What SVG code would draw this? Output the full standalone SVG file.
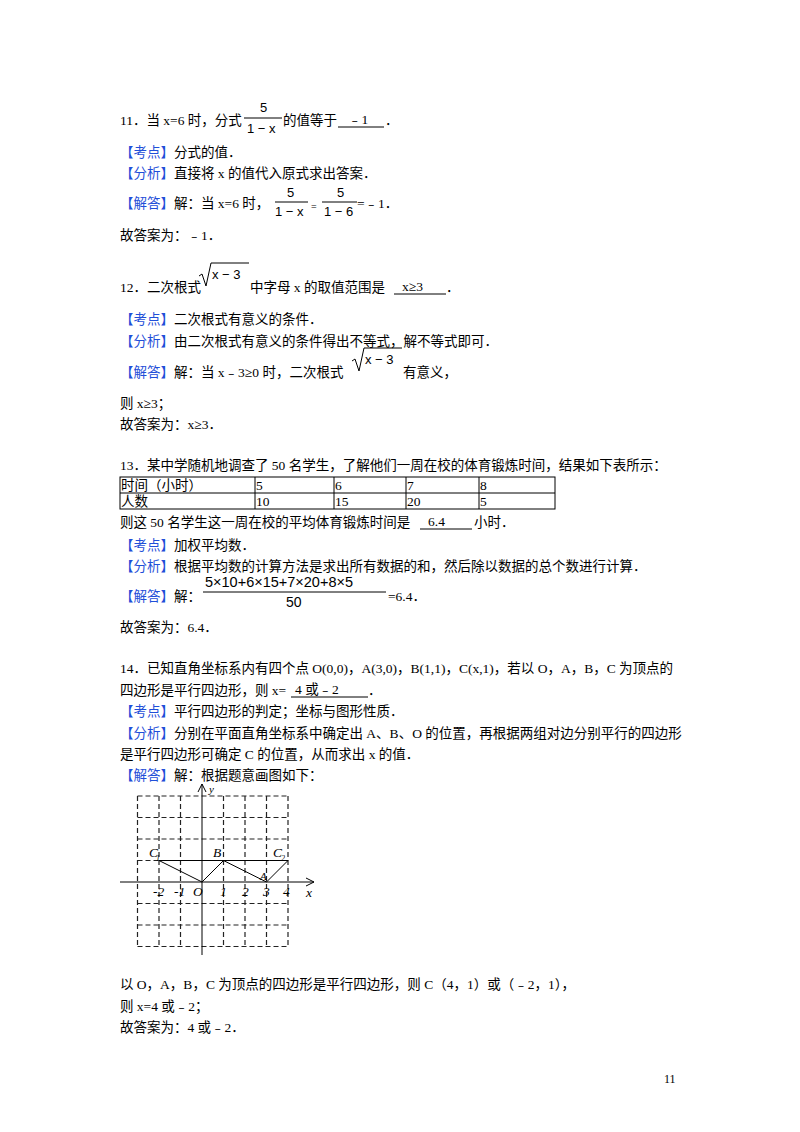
<svg xmlns="http://www.w3.org/2000/svg" width="800" height="1132" viewBox="0 0 800 1132">
<style>
text{font-family:"Liberation Serif","Noto Sans CJK SC",serif;font-size:13.5px;fill:#000}
.b{fill:#1f4fd8}
.s{font-family:"Liberation Sans","Noto Sans CJK SC",sans-serif;font-size:13px}
.g{stroke:#222;stroke-width:1.2;stroke-dasharray:5,3;fill:none}
.l{stroke:#000;stroke-width:1;fill:none}
.t{stroke:#000;stroke-width:1;fill:none}
.it{font-style:italic;font-size:13px}
</style>
<rect width="800" height="1132" fill="#fff"/>
<!-- 11 -->
<text x="120" y="125">11．当 x=6 时，分式</text>
<text class="s" x="260" y="112">5</text><line class="l" x1="244" y1="118" x2="282" y2="118"/>
<text class="s" x="247" y="133">1 − x</text>
<text x="283" y="125">的值等于</text>
<line class="l" x1="338" y1="127" x2="384" y2="127"/><text x="348" y="124">﹣1</text><text x="385" y="125">．</text>
<text x="120" y="157"><tspan class="b">【考点】</tspan>分式的值．</text>
<text x="120" y="178"><tspan class="b">【分析】</tspan>直接将 x 的值代入原式求出答案．</text>
<text x="120" y="208"><tspan class="b">【解答】</tspan>解：当 x=6 时，</text>
<text class="s" x="287" y="197">5</text><line class="l" x1="275" y1="202" x2="308" y2="202"/><text class="s" x="275" y="216">1 − x</text>
<text x="311" y="210" style="font-size:10px">=</text>
<text class="s" x="337" y="197">5</text><line class="l" x1="322" y1="202" x2="357" y2="202"/><text class="s" x="324" y="216">1 − 6</text>
<text x="357" y="208">=﹣1．</text>
<text x="120" y="240">故答案为：﹣1．</text>
<!-- 12 -->
<text x="120" y="292">12．二次根式</text>
<path class="l" d="M199,276 l3,-2 l4,12 l5,-23 h38"/><text class="s" x="212" y="279">x − 3</text>
<text x="250" y="292">中字母 x 的取值范围是</text>
<line class="l" x1="394" y1="294" x2="446" y2="294"/><text x="402" y="291">x≥3</text><text x="446" y="292">．</text>
<text x="120" y="324"><tspan class="b">【考点】</tspan>二次根式有意义的条件．</text>
<text x="120" y="346"><tspan class="b">【分析】</tspan>由二次根式有意义的条件得出不等式，解不等式即可．</text>
<text x="120" y="377"><tspan class="b">【解答】</tspan>解：当 x﹣3≥0 时，二次根式</text>
<path class="l" d="M352,361 l3,-2 l4,12 l5,-23 h38"/><text class="s" x="365" y="364">x − 3</text>
<text x="403" y="377">有意义，</text>
<text x="120" y="408">则 x≥3；</text>
<text x="120" y="429">故答案为：x≥3．</text>
<!-- 13 -->
<text x="120" y="470">13．某中学随机地调查了 50 名学生，了解他们一周在校的体育锻炼时间，结果如下表所示：</text>
<g class="t">
<rect x="120" y="477" width="435" height="32"/>
<line x1="120" y1="493" x2="555" y2="493"/>
<line x1="255" y1="477" x2="255" y2="509"/><line x1="334" y1="477" x2="334" y2="509"/>
<line x1="406" y1="477" x2="406" y2="509"/><line x1="479" y1="477" x2="479" y2="509"/>
</g>
<text x="121" y="490">时间（小时）</text><text x="256" y="490">5</text><text x="335" y="490">6</text><text x="407" y="490">7</text><text x="480" y="490">8</text>
<text x="121" y="506">人数</text><text x="256" y="506">10</text><text x="335" y="506">15</text><text x="407" y="506">20</text><text x="480" y="506">5</text>
<text x="120" y="527">则这 50 名学生这一周在校的平均体育锻炼时间是</text>
<line class="l" x1="420" y1="529" x2="472" y2="529"/><text x="428" y="526">6.4</text><text x="474" y="527">小时．</text>
<text x="120" y="550"><tspan class="b">【考点】</tspan>加权平均数．</text>
<text x="120" y="571"><tspan class="b">【分析】</tspan>根据平均数的计算方法是求出所有数据的和，然后除以数据的总个数进行计算．</text>
<text x="120" y="601"><tspan class="b">【解答】</tspan>解：</text>
<text class="s" x="205" y="587" style="font-size:14.5px">5×10+6×15+7×20+8×5</text>
<line class="l" x1="203" y1="592" x2="386" y2="592"/><text class="s" x="286" y="607" style="font-size:14px">50</text>
<text x="388" y="601">=6.4．</text>
<text x="120" y="632">故答案为：6.4．</text>
<!-- 14 -->
<text x="120" y="673">14．已知直角坐标系内有四个点 O(0,0)，A(3,0)，B(1,1)，C(x,1)，若以 O，A，B，C 为顶点的</text>
<text x="120" y="695">四边形是平行四边形，则 x=</text>
<line class="l" x1="291" y1="697" x2="368" y2="697"/><text x="295" y="694">4 或﹣2</text><text x="368" y="695">．</text>
<text x="120" y="716"><tspan class="b">【考点】</tspan>平行四边形的判定；坐标与图形性质．</text>
<text x="120" y="738"><tspan class="b">【分析】</tspan>分别在平面直角坐标系中确定出 A、B、O 的位置，再根据两组对边分别平行的四边形</text>
<text x="120" y="759">是平行四边形可确定 C 的位置，从而求出 x 的值．</text>
<text x="120" y="780"><tspan class="b">【解答】</tspan>解：根据题意画图如下：</text>
<!-- graph -->
<g class="g">
<line x1="137.5" y1="796" x2="288" y2="796"/><line x1="137.5" y1="817.5" x2="288" y2="817.5"/><line x1="137.5" y1="839" x2="288" y2="839"/><line x1="137.5" y1="860.5" x2="288" y2="860.5"/>
<line x1="137.5" y1="903.5" x2="288" y2="903.5"/><line x1="137.5" y1="925" x2="288" y2="925"/><line x1="137.5" y1="946.5" x2="288" y2="946.5"/>
<line x1="137.5" y1="796" x2="137.5" y2="946.5"/><line x1="159" y1="796" x2="159" y2="946.5"/><line x1="180.5" y1="796" x2="180.5" y2="946.5"/>
<line x1="223.5" y1="796" x2="223.5" y2="946.5"/><line x1="245" y1="796" x2="245" y2="946.5"/><line x1="266.5" y1="796" x2="266.5" y2="946.5"/><line x1="288" y1="796" x2="288" y2="946.5"/>
</g>
<g class="l" stroke-width="1.3">
<line x1="120" y1="882" x2="314" y2="882"/><path d="M306,878 L314,882 L306,886"/>
<line x1="202" y1="955" x2="202" y2="784"/><path d="M198,792 L202,784 L206,792"/>
<path d="M159,860.5 H288 M159,860.5 L202,882 L223.5,860.5 L266.5,882 L288,860.5"/>
</g>
<g class="it">
<text x="209" y="793" style="font-size:11px">y</text><text x="306" y="897">x</text>
<text x="149" y="857">C</text><text x="156" y="861" style="font-size:8px">1</text>
<text x="213" y="857">B</text>
<text x="273" y="857">C</text><text x="281" y="861" style="font-size:8px">2</text>
<text x="260" y="880" style="font-size:11px">A</text>
<text x="193" y="896">O</text>
<text x="153" y="896">-2</text><text x="174" y="896">-1</text><text x="220" y="896">1</text><text x="242" y="896">2</text><text x="263" y="896">3</text><text x="283" y="896">4</text>
</g>
<text x="120" y="989">以 O，A，B，C 为顶点的四边形是平行四边形，则 C（4，1）或（﹣2，1），</text>
<text x="120" y="1011">则 x=4 或﹣2；</text>
<text x="120" y="1032">故答案为：4 或﹣2．</text>
<text x="664" y="1083" style="font-size:12px">11</text>
</svg>
